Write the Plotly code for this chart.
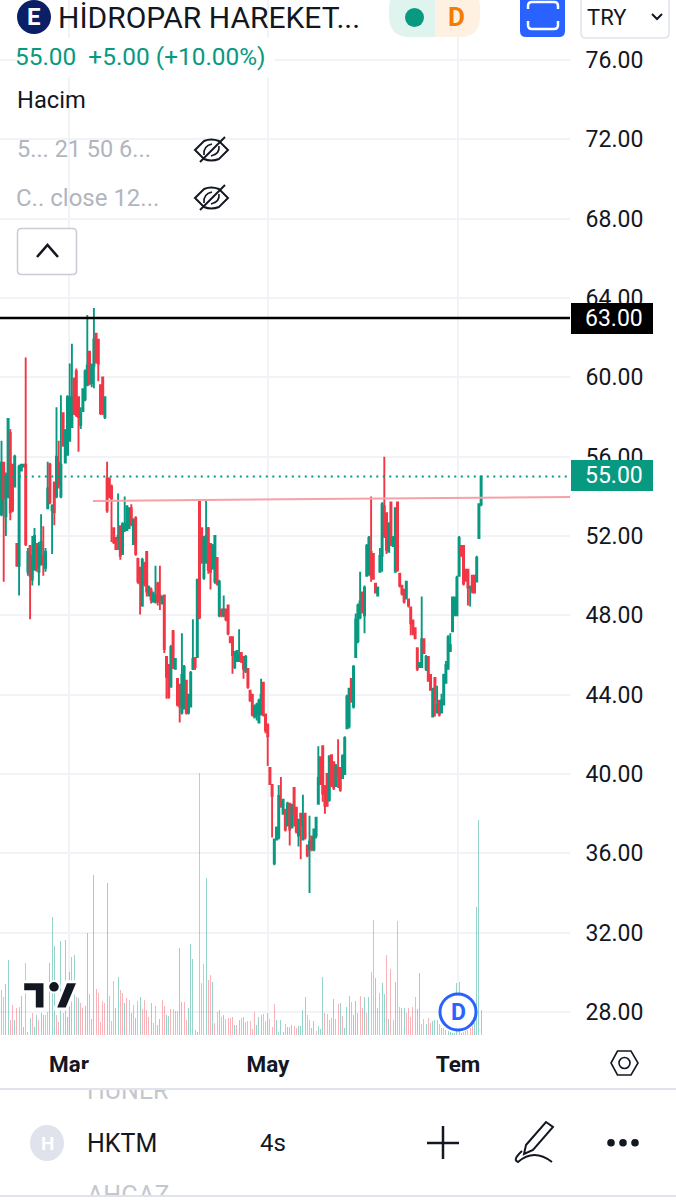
import plotly.graph_objects as go

# ---------- prices, three stretches of bars ----------
opens_a = [53.1,55.7,53.0,54.0,57.2,55.6,54.5,51.6,50.5,55.3,
55.5,55.6,50.2,51.5,49.8,50.3,51.6,50.2,50.6,51.0,
50.4,53.4,55.6,53.3,54.7,54.0,55.7,54.0,58.2,55.7,
56.1,56.8,57.5,59.9,60.3,59.0,57.6,58.3,58.9,59.6,
61.3,59.7,60.6,62.2,61.9,59.6,60.0,58.0]
highs_a = [56.8,55.7,55.2,57.9,57.4,55.6,56.1,51.6,55.6,55.6,
55.6,61.0,51.4,51.5,52.0,52.4,51.6,51.7,53.1,52.5,
51.4,55.75,55.7,53.6,54.7,58.5,56.8,59.1,58.2,57.4,
59.1,60.7,61.7,60.0,60.45,59.0,58.5,59.45,60.4,63.15,
61.3,60.7,63.5,62.2,61.9,59.6,60.0,59.0]
lows_a = [53.0,49.7,52.0,53.9,52.8,53.2,54.5,50.5,49.0,55.3,
55.5,51.5,50.0,47.8,49.5,50.3,50.2,49.5,50.5,50.0,
50.2,53.4,53.6,51.1,52.55,53.9,54.4,53.9,56.5,55.7,
56.1,56.8,57.5,58.1,58.0,56.25,57.4,58.25,58.8,59.6,
59.6,59.5,59.45,60.7,59.8,58.1,58.1,57.9]
closes_a = [55.7,53.9,55.0,57.9,53.2,53.3,56.0,50.5,55.5,55.6,
55.6,51.6,51.2,50.0,51.0,52.0,50.4,51.5,51.7,50.6,
51.2,54.4,53.7,53.5,53.2,56.0,54.6,55.6,56.6,57.3,
59.0,59.0,59.0,58.2,58.1,58.0,58.2,59.4,60.3,60.6,
59.7,60.6,61.9,60.8,60.7,58.2,58.2,59.0]

opens_b = [54.9,54.9,54.5,52.4,51.9,51.9,52.5,51.1,52.3,52.3,
52.4,53.4,51.6,52.9,50.85,50.4,48.5,50.6,51.2,49.0,
49.3,48.7,48.7,49.6,49.0,48.6,49.0,45.9,45.5,44.4,
47.2,45.3,44.8,44.5,43.1,43.3,44.7,43.1,43.4,45.3,
45.85,45.9,53.8,52.4,49.9,50.7,52.4,51.6,50.4,49.7,
50.9,48.0,48.3,48.0,48.3,48.5,46.9,46.9,45.4,45.7,
45.7,46.1,45.9,45.2,45.3,44.2,44.0,42.9,43.0,42.6,
43.0,44.6,43.0]
highs_b = [55.75,54.9,54.6,52.4,51.9,54.15,52.55,52.7,54.0,53.5,
53.45,53.6,52.9,53.0,50.9,50.45,50.9,50.7,51.25,49.5,
49.4,49.2,50.5,49.7,50.5,49.0,49.0,45.9,45.5,46.5,
47.26,45.8,44.8,44.5,47.1,45.5,44.75,44.0,45.2,47.8,
45.85,49.8,53.87,52.4,52.0,53.85,52.45,51.6,51.6,52.0,
50.9,49.8,48.35,49.0,48.35,48.5,46.9,46.9,46.2,46.25,
47.3,46.1,45.9,46.0,45.3,44.2,44.0,43.5,43.6,43.8,
44.8,44.65,43.0]
lows_b = [53.18,53.9,51.7,51.6,51.3,51.3,50.8,51.05,52.2,52.3,
52.4,52.5,51.55,51.0,49.6,48.05,48.44,49.45,48.95,48.95,
48.6,48.64,48.6,48.5,48.27,48.56,46.1,43.8,43.8,44.4,
45.3,45.3,43.4,42.6,43.0,43.3,43.0,43.0,43.4,45.25,
45.25,45.85,47.8,50.6,49.8,50.6,50.1,49.3,50.3,49.6,
49.5,47.9,47.9,47.9,47.7,47.0,46.6,45.05,45.3,45.65,
45.65,45.6,44.8,45.1,44.3,43.65,42.9,42.8,42.7,42.55,
43.0,42.9,42.05]
closes_b = [53.3,54.0,53.9,51.7,51.35,52.0,51.0,52.6,52.6,53.5,
53.4,52.6,52.8,51.1,49.7,49.6,50.8,49.6,49.2,49.4,
48.8,49.1,49.0,48.7,48.8,48.95,46.3,44.9,43.9,46.4,
45.4,45.8,43.5,43.4,45.0,45.4,43.1,44.0,45.1,45.8,
45.4,49.8,47.9,50.7,51.9,52.0,50.3,50.2,51.5,52.0,
49.6,49.7,48.0,48.3,47.8,47.1,46.65,46.0,46.1,46.2,
46.0,45.7,45.3,45.9,44.4,43.7,43.0,43.4,43.5,43.7,
44.0,43.0,42.2]

opens_c = [42.5,40.3,39.45,35.5,36.7,36.8,38.6,38.0,38.2,37.4,
38.5,37.3,39.3,38.3,36.9,38.0,36.7,38.0,36.4,
36.2,36.85,36.2,36.9,38.5,
40.85,41.4,39.4,40.0,38.7,
40.95,40.6,39.4,40.3,40.3,
39.8,40.0,42.3,42.4,44.8,
43.4,45.9,46.7,47.9,49.15,
48.0,50.0,50.1,51.2,51.1,
49.6,49.0,50.2,51.0,53.5,
53.15,51.2,53.7,51.5,50.2,
53.7,50.1,49.5,49.3,48.9,
48.8,48.4,47.75,47.35,46.35,
45.4,45.4,46.8,
45.3,45.9,45.0,42.9,44.85,
43.1,43.7,43.1,43.5,44.6,
45.3,46.2,47.2,48.0,48.0,
50.0,51.5,51.5,50.3,50.3,
49.4,50.0,50.0,49.7,51.9,53.6]
highs_c = [42.5,40.3,39.45,36.75,37.35,39.45,39.85,38.75,38.2,38.6,
38.5,38.5,39.3,38.3,37.75,38.0,38.95,38.0,36.4,
37.9,36.85,37.25,37.85,41.4,
40.85,41.4,39.4,40.0,40.9,
40.95,40.6,40.5,41.75,40.3,
41.0,41.9,44.0,44.35,44.8,
45.5,48.1,48.6,50.2,49.15,
49.5,51.6,52.0,54.0,51.1,
49.6,49.45,51.4,53.7,56.0,
53.15,52.7,53.7,52.0,53.45,
53.7,50.1,49.5,49.3,49.75,
48.8,48.4,47.75,47.35,46.35,
45.6,48.95,46.8,
46.0,45.9,45.0,44.3,44.85,
44.45,43.7,44.05,45.05,45.7,
47.0,47.1,48.95,48.95,50.0,
52.0,51.5,51.55,50.3,50.3,
49.5,50.0,50.0,51.0,53.65,55.0]
lows_c = [40.4,39.45,36.8,35.4,36.7,36.7,38.3,38.0,37.1,37.35,
36.4,37.25,37.35,37.0,36.35,35.7,36.7,36.7,35.8,
34.0,36.1,36.1,36.75,38.45,
39.45,38.6,38.0,38.35,38.6,
39.35,39.2,39.35,39.3,39.1,
39.8,40.0,42.3,42.3,43.6,
43.3,45.85,46.6,47.8,48.1,
47.1,49.95,50.0,49.7,49.8,
49.1,49.0,50.2,50.2,51.9,
51.1,51.2,51.5,51.5,50.2,
50.2,49.4,49.0,48.6,48.8,
48.4,47.0,47.0,46.8,45.2,
45.4,45.4,46.05,
45.2,44.65,44.2,42.9,42.9,
43.05,42.9,43.05,43.5,44.6,
45.3,46.2,47.2,48.0,48.0,
50.0,51.0,49.5,49.7,48.5,
48.45,49.1,49.1,49.7,51.9,53.5]
closes_c = [41.9,39.5,38.9,36.7,37.3,38.9,38.4,38.7,37.2,38.5,
37.2,38.4,38.0,37.1,37.7,37.4,37.9,36.8,35.9,
36.6,36.2,37.2,37.8,39.8,
39.5,39.0,38.4,38.4,40.9,
39.4,39.3,40.4,39.9,39.2,
40.9,41.8,43.9,44.3,43.7,
45.4,47.8,48.5,48.7,48.2,
49.4,51.5,51.9,50.0,49.85,
49.15,49.4,51.0,53.6,52.0,
51.3,52.6,51.6,51.9,53.4,
50.3,49.5,49.1,48.7,49.7,
48.5,47.6,47.1,46.85,45.3,
45.6,46.8,46.1,
45.9,44.7,44.25,44.3,43.7,
43.5,43.0,43.7,45.0,45.5,
46.9,46.5,48.9,48.9,49.9,
51.9,51.0,49.6,49.75,49.4,
49.45,49.2,49.15,50.9,53.6,55.0]

volumes = [45,38,51,75,15,30,15,27,28,39,8,72,3,17,22,8,20,15,22,20,
20,23,72,118,89,20,13,94,22,95,18,63,78,80,38,37,32,27,29,102,
41,16,160,46,42,13,34,32,152,39,14,54,27,58,45,42,32,37,35,22,
30,17,34,38,26,35,25,18,32,12,29,10,16,35,29,20,19,26,26,24,
24,87,33,33,15,27,91,76,5,3,262,52,71,157,55,60,53,12,23,25,
18,20,16,17,17,18,10,10,15,17,18,13,14,14,6,23,10,18,20,21,
14,22,16,8,31,15,3,15,3,11,8,8,10,9,7,9,9,25,38,20,
15,7,14,4,9,6,58,22,21,15,17,36,16,31,32,19,7,28,39,33,
20,34,22,39,27,38,22,38,63,115,57,27,42,52,41,80,16,66,15,53,
114,28,27,27,22,27,18,28,38,26,62,11,16,11,17,12,14,15,15,11,
7,7,5,4,3,2,2,52,53,2,3,4,5,7,9,12,128,215,25]
# bars whose volume is drawn in the rising colour
volume_up_bars = [2,3,6,9,10,12,13,15,16,18,19,22,23,24,27,29,30,31,32,33,35,38,39,41,42,
48,52,53,56,59,61,63,68,71,72,75,76,81,82,85,86,87,88,89,93,96,99,101,
106,108,110,116,117,118,125,126,127,128,130,132,135,136,137,138,141,142,
144,145,146,151,154,156,157,158,160,161,162,165,167,170,173,174,176,179,
182,183,189,190,193,196,197,198,200,202,203,204,205,206,207,208,209,215,216,217,218]

price_ticks = [28,32,36,40,44,48,52,56,60,64,68,72,76]
month_bars = [30.7,121.1,207.5]
month_labels = ["Mar","May","Tem"]
last_price = 55.0
level_price = 63.0
trend_prices = [53.77,53.97]

opens = opens_a + opens_b + opens_c
highs = highs_a + highs_b + highs_c
lows = lows_a + lows_b + lows_c
closes = closes_a + closes_b + closes_c
bars = list(range(len(opens)))

UP, DOWN = "#089981", "#f23645"
INK = "#131722"

fig = go.Figure()
vol_bars = list(range(len(volumes)))
vset = set(volume_up_bars)
fig.add_trace(go.Bar(x=vol_bars, y=volumes, yaxis="y2", width=0.5,
                     marker=dict(color=["rgba(8,153,129,0.42)" if i in vset else "rgba(242,54,69,0.38)" for i in vol_bars],
                                 line=dict(width=0)),
                     hoverinfo="skip", showlegend=False))
fig.add_trace(go.Candlestick(x=bars, open=opens, high=highs, low=lows, close=closes,
                             whiskerwidth=0,
                             increasing=dict(line=dict(color=UP, width=1.9), fillcolor=UP),
                             decreasing=dict(line=dict(color=DOWN, width=1.9), fillcolor=DOWN),
                             hoverinfo="skip", showlegend=False))
fig.add_trace(go.Scatter(x=[0], y=[0], xaxis="x3", yaxis="y3", mode="markers", marker=dict(opacity=0),
                         hoverinfo="skip", showlegend=False))

GRID = "#f1f3f6"
shapes = []
def ui(kind="path", layer="above", **kw):
    shapes.append(dict(type=kind, xref="x3", yref="y3", layer=layer, **kw))
def stroke(path, color=INK, width=2, fill=None):
    ui(path=path, line=dict(color=color, width=width), fillcolor=fill or "rgba(0,0,0,0)")
def rrect(x0,y0,x1,y1,r):
    return (f"M{x0+r},{y0} L{x1-r},{y0} Q{x1},{y0} {x1},{y0+r} L{x1},{y1-r} Q{x1},{y1} {x1-r},{y1} "
            f"L{x0+r},{y1} Q{x0},{y1} {x0},{y1-r} L{x0},{y0+r} Q{x0},{y0} {x0+r},{y0} Z")

# white backing of the legend text, hides the grid there
ui(kind="rect", x0=16, x1=274, y0=38, y1=77, line=dict(width=0), fillcolor="#ffffff")

# reference lines on the chart
shapes.append(dict(type="line", xref="x", yref="y", x0=-1, x1=259, y0=last_price, y1=last_price,
                   line=dict(color=UP, width=2, dash="2px,4.5px")))
shapes.append(dict(type="line", xref="x", yref="y", x0=41.6, x1=259, y0=trend_prices[0], y1=trend_prices[1],
                   line=dict(color="#f7a0a8", width=2)))
shapes.append(dict(type="line", xref="x", yref="y", x0=-1, x1=259, y0=level_price, y1=level_price,
                   line=dict(color="#000000", width=2.5)))

# TradingView mark
stroke("M22.7,981.7 L45,981.7 L45,1009 L34.3,1009 L34.3,991.7 L22.7,991.7 Z", color="#ffffff", width=3, fill=INK)
stroke("M66,981.7 L78.3,981.7 L66.7,1009 L55,1009 Z", color="#ffffff", width=3, fill=INK)
ui(kind="circle", x0=48.2, x1=59.8, y0=981, y1=992.6, line=dict(color="#ffffff", width=2), fillcolor=INK)
# interval badge
ui(kind="circle", x0=440, x1=476, y0=994, y1=1030, line=dict(color="#2962ff", width=3), fillcolor="#ffffff")

# header
ui(kind="circle", x0=17, x1=51, y0=0, y1=34, line=dict(width=0), fillcolor="#0b1f66")
stroke(rrect(389,-12,480,37,20), color="rgba(0,0,0,0)", width=0, fill="#fff1e2")
stroke("M435,-12 L409,-12 Q389,-12 389,12 Q389,37 409,37 L435,37 Z", color="rgba(0,0,0,0)", width=0, fill="#dff3ef")
ui(kind="circle", x0=405, x1=424, y0=8, y1=27, line=dict(width=0), fillcolor=UP)
stroke(rrect(520,-8,565,37,6), color="#2962ff", width=0, fill="#2962ff")
stroke("M528,9 L528,6 Q528,2 532,2 L554,2 Q558,2 558,6 L558,9", color="#ffffff", width=2.5)
stroke("M528,21 L528,25 Q528,29 532,29 L554,29 Q558,29 558,25 L558,21", color="#ffffff", width=2.5)
stroke(rrect(581,-6,669,38,5), color="#e0e3eb", width=1.5, fill="#ffffff")
stroke("M652,14 L657,19 L662,14", width=2)

# crossed eyes in the legend
for cy in (150, 198):
    stroke(f"M195,{cy} L204,{cy-9} Q211,{cy-12} 219,{cy-9} L228,{cy} L219,{cy+9} Q211,{cy+12} 204,{cy+9} Z", width=2)
    stroke(f"M204,{cy+5} Q203,{cy-4} 212,{cy-6}", width=1.6)
    stroke(f"M219,{cy-4} Q220,{cy+4} 211,{cy+6}", width=1.6)
    stroke(f"M200,{cy+12} L225,{cy-13}", width=2)
# collapse button
stroke(rrect(17.5,228.5,76.5,274.5,4), color="#c9ccd4", width=1.5, fill="#ffffff")
stroke("M37,257 L47.5,245 L58,257", width=2.5)
# settings hexagon
stroke("M611,1063 L617.5,1051 L631,1051 L638,1063 L631,1075 L617.5,1075 Z", width=1.6)
ui(kind="circle", x0=619, x1=630, y0=1057.5, y1=1068.5, line=dict(color=INK, width=1.6), fillcolor="#ffffff")
# footer
ui(kind="circle", x0=30, x1=64, y0=1125, y1=1161, line=dict(width=0), fillcolor="#e0e3eb")
stroke("M427,1143 L459,1143", width=2.5)
stroke("M443,1126 L443,1159", width=2.5)
stroke("M526,1145 L546,1122 L553,1127 L533,1150 L524,1154 Z", width=2)
stroke("M522,1151 Q512,1160 518,1162 Q534,1148 552,1162", width=2)
for cx in (611, 623, 635):
    ui(kind="circle", x0=cx-3.8, x1=cx+3.8, y0=1139, y1=1146.6, line=dict(width=0), fillcolor=INK)

anns = []
def label(text, x, y, size, color=INK, weight=400, anchor="left", **kw):
    anns.append(dict(text=text, x=x, y=y, xref="x3", yref="y3", xanchor=anchor, yanchor="middle", showarrow=False,
                     font=dict(family="Roboto", size=size, color=color, weight=weight), **kw))
def patch(cx, cy, w, h, color="#ffffff"):
    anns.append(dict(text=" ", x=cx, y=cy, xref="x3", yref="y3", xanchor="center", yanchor="middle", showarrow=False,
                     width=w, height=h, bgcolor=color, borderpad=0, borderwidth=0, font=dict(size=1)))

label("E", 34, 17, 24, "#ffffff", 700, "center")
label("HİDROPAR HAREKET...", 56, 17, 30)
label("D", 456, 17, 26, "#f57c00", 700, "center")
label("TRY", 585, 17, 22)
label("55.00  +5.00 (+10.00%)", 13, 56, 24.4, UP)
label("Hacim", 15, 100, 23.7)
label("5... 21 50 6...", 15, 149, 23.5, "#b2b5be")
label("C.. close 12...", 14, 198, 24, "#b2b5be")
label("D", 458, 1012, 23, "#2962ff", 700, "center")
# price tags
patch(612, 318, 82, 31, "#000000")
label("63.00", 614, 318, 23, "#ffffff", 400, "center")
patch(612, 475.5, 82, 31, UP)
label("55.00", 614, 475.5, 23, "#ffffff", 400, "center")
# symbol list
label("HÜNER", 85, 1090, 25, "#c4c7cd")
patch(129, 1078, 100, 19)
patch(338, 1089, 676, 2, "#e0e3eb")
label("H", 47, 1143, 19, "#ffffff", 700, "center")
label("HKTM", 85, 1143, 25)
label("4s", 273, 1143, 24, INK, 400, "center")
label("AHGAZ", 85, 1195, 25, "#c4c7cd")
patch(338, 1198.5, 676, 4)
patch(338, 1195.5, 676, 2, "#e0e3eb")

fig.update_layout(
    width=676, height=1200, margin=dict(l=0, r=0, t=0, b=0, pad=0, autoexpand=False),
    paper_bgcolor="#ffffff", plot_bgcolor="rgba(0,0,0,0)",
    showlegend=False, hovermode=False, dragmode=False, bargap=0,
    xaxis=dict(domain=[0, 570/676], range=[-0.68, 258.4], anchor="y", rangeslider=dict(visible=False),
               tickmode="array", tickvals=month_bars, ticktext=month_labels,
               tickfont=dict(family="Roboto", size=22.5, color=INK, weight=700),
               ticks="outside", ticklen=9, tickcolor="rgba(0,0,0,0)",
               showgrid=True, gridcolor=GRID, gridwidth=2, zeroline=False, showline=False, fixedrange=True),
    yaxis=dict(domain=[165/1200, 1], range=[26.84, 79.03], anchor="x", side="right",
               tickmode="array", tickvals=price_ticks, ticktext=[f"{v:.2f}" for v in price_ticks],
               tickfont=dict(family="Roboto", size=23, color=INK),
               ticks="outside", ticklen=10, tickcolor="rgba(0,0,0,0)",
               showgrid=True, gridcolor=GRID, gridwidth=2, zeroline=False, showline=False, fixedrange=True),
    yaxis2=dict(domain=[165/1200, 1], range=[0, 1035], overlaying="y", side="left", visible=False, fixedrange=True),
    xaxis3=dict(domain=[0, 1], range=[0, 676], anchor="y3", visible=False, fixedrange=True),
    yaxis3=dict(domain=[0, 1], range=[1200, 0], anchor="x3", visible=False, fixedrange=True),
    shapes=shapes, annotations=anns,
)

fig.write_html("out.html", config=dict(displayModeBar=False),
               post_script="document.body.style.margin='0';document.documentElement.style.overflow='hidden';")
